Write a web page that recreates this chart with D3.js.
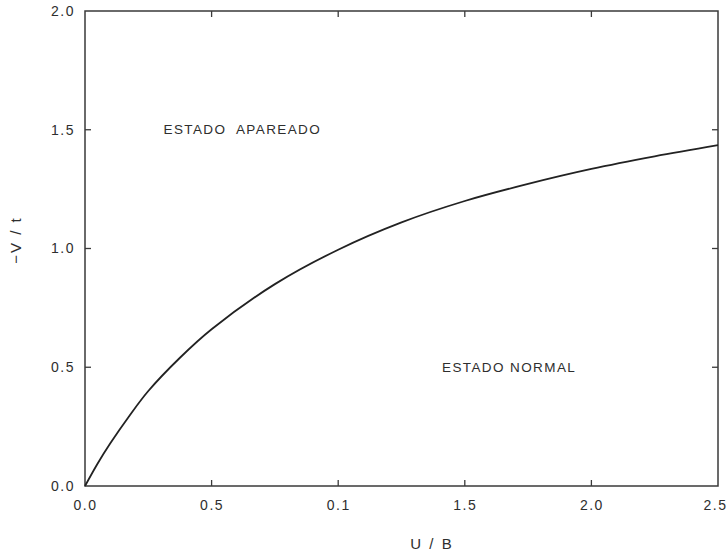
<!DOCTYPE html>
<html>
<head>
<meta charset="utf-8">
<script src="https://cdn.jsdelivr.net/npm/d3@7"></script>
<style>
  body { margin: 0; background: #fff; }
  text { font-family: "Liberation Sans", Arial, sans-serif; fill: #2e2e2e; }
</style>
</head>
<body>
<svg id="chart" width="728" height="556"></svg>
<script>
// values
const uValues = [0, 0.05, 0.1, 0.175, 0.25, 0.375, 0.5, 0.75, 1.0, 1.25, 1.5, 1.75, 2.0, 2.25, 2.5];
const vValues = [0, 0.095, 0.18, 0.295, 0.4, 0.54, 0.66, 0.85, 0.995, 1.11, 1.2, 1.272, 1.335, 1.388, 1.435];
const xTicks = [0, 0.5, 1.0, 1.5, 2.0, 2.5];
const xTickLabels = ["0.0", "0.5", "0.1", "1.5", "2.0", "2.5"];
const yTicks = [0, 0.5, 1.0, 1.5, 2.0];
const yTickLabels = ["0.0", "0.5", "1.0", "1.5", "2.0"];
const annotations = [
  { text: "ESTADO  APAREADO", u: 0.31, v: 1.5 },
  { text: "ESTADO NORMAL", u: 1.41, v: 0.5 },
];

const margin = { top: 11, right: 10, bottom: 70, left: 85 };
const width = 728 - margin.left - margin.right;
const height = 556 - margin.top - margin.bottom;

const svg = d3.select("#chart");
const root = svg.append("g").attr("transform", `translate(${margin.left},${margin.top})`);

const x = d3.scaleLinear().domain([0, 2.5]).range([0, width]);
const y = d3.scaleLinear().domain([0, 2.0]).range([height, 0]);

const axisColor = "#3a3a3a";

// frame
root.append("rect")
  .attr("width", width)
  .attr("height", height)
  .attr("fill", "none")
  .attr("stroke", axisColor)
  .attr("stroke-width", 1.5);

// inner ticks on all four sides
const tickLen = 6;
const innerX = xTicks.slice(1, -1);
const innerY = yTicks.slice(1, -1);

const bottomAxis = root.append("g")
  .attr("transform", `translate(0,${height})`)
  .call(d3.axisBottom(x).tickValues(xTicks).tickSize(0).tickPadding(14)
    .tickFormat((d, i) => xTickLabels[i]));
bottomAxis.select(".domain").remove();
bottomAxis.selectAll("text").attr("font-size", 14).attr("letter-spacing", 1.5).attr("fill", "#2e2e2e");
bottomAxis.selectAll("text").filter((d) => d === 2.5).attr("dx", -3);

const leftAxis = root.append("g")
  .call(d3.axisLeft(y).tickValues(yTicks).tickSize(0).tickPadding(10)
    .tickFormat((d, i) => yTickLabels[i]));
leftAxis.select(".domain").remove();
leftAxis.selectAll("text").attr("font-size", 14).attr("letter-spacing", 1.5).attr("fill", "#2e2e2e");

const ticks = root.append("g").attr("stroke", axisColor).attr("stroke-width", 1.3);
ticks.selectAll(".tb").data(innerX).enter().append("line")
  .attr("x1", (d) => x(d)).attr("x2", (d) => x(d))
  .attr("y1", height).attr("y2", height - tickLen);
ticks.selectAll(".tt").data(innerX).enter().append("line")
  .attr("x1", (d) => x(d)).attr("x2", (d) => x(d))
  .attr("y1", 0).attr("y2", tickLen);
ticks.selectAll(".tl").data(innerY).enter().append("line")
  .attr("x1", 0).attr("x2", tickLen)
  .attr("y1", (d) => y(d)).attr("y2", (d) => y(d));
ticks.selectAll(".tr").data(innerY).enter().append("line")
  .attr("x1", width).attr("x2", width - tickLen)
  .attr("y1", (d) => y(d)).attr("y2", (d) => y(d));

// curve
const points = uValues.map((u, i) => [u, vValues[i]]);
root.append("path")
  .datum(points)
  .attr("fill", "none")
  .attr("stroke", "#222")
  .attr("stroke-width", 1.8)
  .attr("d", d3.line().x((d) => x(d[0])).y((d) => y(d[1])).curve(d3.curveCatmullRom));

// region labels
root.selectAll(".ann").data(annotations).enter().append("text")
  .attr("x", (d) => x(d.u))
  .attr("y", (d) => y(d.v))
  .attr("dy", "0.35em")
  .attr("font-size", 13.5)
  .attr("letter-spacing", 1.4)
  .attr("xml:space", "preserve")
  .style("white-space", "pre")
  .text((d) => d.text);

// axis titles
svg.append("text")
  .attr("x", 432)
  .attr("y", 544)
  .attr("dy", "0.35em")
  .attr("text-anchor", "middle")
  .attr("font-size", 15)
  .attr("letter-spacing", 2)
  .text("U / B");

svg.append("text")
  .attr("transform", "translate(16,240) rotate(-90)")
  .attr("dy", "0.35em")
  .attr("text-anchor", "middle")
  .attr("font-size", 15)
  .attr("letter-spacing", 2)
  .text("−V / t");
</script>
</body>
</html>
